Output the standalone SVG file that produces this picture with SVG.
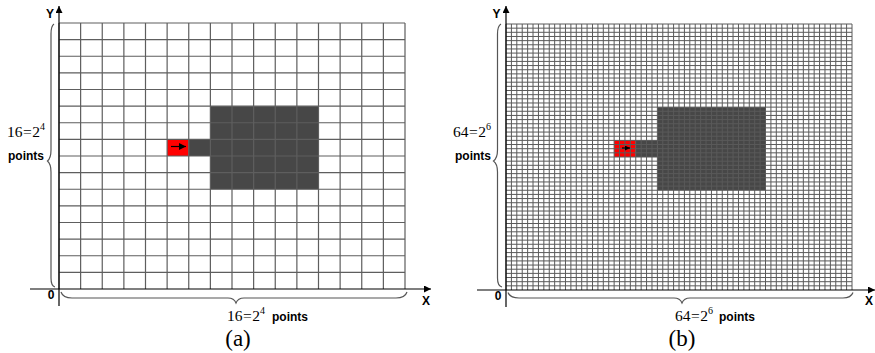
<svg xmlns="http://www.w3.org/2000/svg" width="875" height="353" viewBox="0 0 875 353">
<style>
.bg{fill:#fff}
.dark{fill:#474747}
.red{fill:#ff0000}
.gridA{fill:none;stroke:#5e5e5e;stroke-width:1.2}
.gridB{fill:none;stroke:#5a5a5a;stroke-width:1}
.axis{fill:none;stroke:#000;stroke-width:1.2}
.brace{fill:none;stroke:#555;stroke-width:1.2}
.math{font-family:"Liberation Serif","Times New Roman",serif;font-size:15.5px;fill:#000}
.sup{font-size:10px}
.pts{font-family:"Liberation Sans",Arial,sans-serif;font-weight:bold;font-size:12px;fill:#000}
.ax{font-family:"Liberation Sans",Arial,sans-serif;font-weight:bold;font-size:12px;fill:#000;text-anchor:middle}
.cap{font-family:"Liberation Serif","Times New Roman",serif;font-size:23px;fill:#000;text-anchor:middle}
</style>
<defs>
<marker id="arr" viewBox="0 0 10 10" refX="10" refY="5" markerWidth="7" markerHeight="7" markerUnits="userSpaceOnUse" orient="auto">
<path d="M0,0 L10,5 L0,10 z" fill="#000"/>
</marker>
<marker id="arrS" viewBox="0 0 10 10" refX="10" refY="5" markerWidth="5" markerHeight="5" markerUnits="userSpaceOnUse" orient="auto">
<path d="M0,0 L10,5 L0,10 z" fill="#000"/>
</marker>
</defs>
<rect class="bg" x="0" y="0" width="875" height="353"/>

<g id="panel-a">
<g id="cells-a">
<rect class="dark" x="210.375" y="106.125" width="108.125" height="83.125"/>
<rect class="dark" x="188.75" y="139.375" width="21.625" height="16.625"/>
<rect class="red" x="167.125" y="139.375" width="21.625" height="16.625"/>
</g>
<path id="grid-a" class="gridA" d="M59,23V289M80.625,23V289M102.25,23V289M123.875,23V289M145.5,23V289M167.125,23V289M188.75,23V289M210.375,23V289M232,23V289M253.625,23V289M275.25,23V289M296.875,23V289M318.5,23V289M340.125,23V289M361.75,23V289M383.375,23V289M405,23V289
M59,23H405M59,39.625H405M59,56.25H405M59,72.875H405M59,89.5H405M59,106.125H405M59,122.75H405M59,139.375H405M59,156H405M59,172.625H405M59,189.25H405M59,205.875H405M59,222.5H405M59,239.125H405M59,255.75H405M59,272.375H405"/>
<line class="axis" x1="171" y1="146.5" x2="186" y2="146.5" marker-end="url(#arr)"/>
<g id="axes-a">
<line class="axis" x1="59" y1="306" x2="59" y2="6" marker-end="url(#arr)"/>
<line class="axis" x1="30" y1="289" x2="431" y2="289" marker-end="url(#arr)"/>
<text class="ax" x="50" y="18">Y</text>
<text class="ax" x="51" y="299">0</text>
<text class="ax" x="426" y="305">X</text>
</g>
<g id="braces-a">
<path class="brace" d="M54,24 Q51,26 51,34 V150 Q51,158 47.5,161 Q51,164 51,172 V278 Q51,286 55,287"/>
<path class="brace" d="M61,292 Q63,298 72,298 H228 Q234,298 236,303 Q238,298 244,298 H396 Q405,298 407,292"/>
</g>
<text class="math" x="7" y="137">16<tspan dx="0.5">=</tspan><tspan dx="0.5">2</tspan><tspan class="sup" dy="-7">4</tspan></text>
<text class="pts" x="8" y="160">points</text>
<text class="math" x="227" y="321">16<tspan dx="0.5">=</tspan><tspan dx="0.5">2</tspan><tspan class="sup" dy="-7">4</tspan></text>
<text class="pts" x="272" y="321">points</text>
<text class="cap" x="238" y="346">(a)</text>
</g>

<g id="panel-b">
<g id="cells-b">
<rect class="dark" x="657.38" y="107.13" width="108.12" height="83.12"/>
<rect class="dark" x="635.75" y="140.38" width="21.63" height="16.62"/>
<rect class="red" x="614.13" y="140.38" width="21.62" height="16.62"/>
</g>
<path id="grid-b" class="gridB" d="M506,24V290M511.41,24V290M516.81,24V290M522.22,24V290M527.63,24V290M533.03,24V290M538.44,24V290M543.84,24V290M549.25,24V290M554.66,24V290M560.06,24V290M565.47,24V290M570.88,24V290M576.28,24V290M581.69,24V290M587.09,24V290M592.5,24V290M597.91,24V290M603.31,24V290M608.72,24V290M614.13,24V290M619.53,24V290M624.94,24V290M630.34,24V290M635.75,24V290M641.16,24V290M646.56,24V290M651.97,24V290M657.38,24V290M662.78,24V290M668.19,24V290M673.59,24V290M679,24V290M684.41,24V290M689.81,24V290M695.22,24V290M700.63,24V290M706.03,24V290M711.44,24V290M716.84,24V290M722.25,24V290M727.66,24V290M733.06,24V290M738.47,24V290M743.88,24V290M749.28,24V290M754.69,24V290M760.09,24V290M765.5,24V290M770.91,24V290M776.31,24V290M781.72,24V290M787.13,24V290M792.53,24V290M797.94,24V290M803.34,24V290M808.75,24V290M814.16,24V290M819.56,24V290M824.97,24V290M830.38,24V290M835.78,24V290M841.19,24V290M846.59,24V290M852,24V290
M506,24H852M506,28.16H852M506,32.31H852M506,36.47H852M506,40.63H852M506,44.78H852M506,48.94H852M506,53.09H852M506,57.25H852M506,61.41H852M506,65.56H852M506,69.72H852M506,73.88H852M506,78.03H852M506,82.19H852M506,86.34H852M506,90.5H852M506,94.66H852M506,98.81H852M506,102.97H852M506,107.13H852M506,111.28H852M506,115.44H852M506,119.59H852M506,123.75H852M506,127.91H852M506,132.06H852M506,136.22H852M506,140.38H852M506,144.53H852M506,148.69H852M506,152.84H852M506,157H852M506,161.16H852M506,165.31H852M506,169.47H852M506,173.63H852M506,177.78H852M506,181.94H852M506,186.09H852M506,190.25H852M506,194.41H852M506,198.56H852M506,202.72H852M506,206.88H852M506,211.03H852M506,215.19H852M506,219.34H852M506,223.5H852M506,227.66H852M506,231.81H852M506,235.97H852M506,240.13H852M506,244.28H852M506,248.44H852M506,252.59H852M506,256.75H852M506,260.91H852M506,265.06H852M506,269.22H852M506,273.38H852M506,277.53H852M506,281.69H852M506,285.84H852"/>
<line class="axis" x1="622" y1="148" x2="630" y2="148" marker-end="url(#arrS)"/>
<g id="axes-b">
<line class="axis" x1="506" y1="307" x2="506" y2="6" marker-end="url(#arr)"/>
<line class="axis" x1="477" y1="290" x2="875" y2="290" marker-end="url(#arr)"/>
<text class="ax" x="496.5" y="18">Y</text>
<text class="ax" x="498" y="300">0</text>
<text class="ax" x="869" y="305">X</text>
</g>
<g id="braces-b">
<path class="brace" d="M501,24 Q497.5,26 497.5,34 V150 Q497.5,158 493.5,161 Q497.5,164 497.5,172 V278 Q497.5,286 502,287"/>
<path class="brace" d="M508,292.5 Q510,298 519,298 H674 Q680,298 682,303 Q684,298 690,298 H843 Q851,298 853,292.5"/>
</g>
<text class="math" x="453" y="137">64<tspan dx="0.5">=</tspan><tspan dx="0.5">2</tspan><tspan class="sup" dy="-7">6</tspan></text>
<text class="pts" x="455" y="160">points</text>
<text class="math" x="675" y="321">64<tspan dx="0.5">=</tspan><tspan dx="0.5">2</tspan><tspan class="sup" dy="-7">6</tspan></text>
<text class="pts" x="719" y="321">points</text>
<text class="cap" x="682" y="346">(b)</text>
</g>
</svg>
